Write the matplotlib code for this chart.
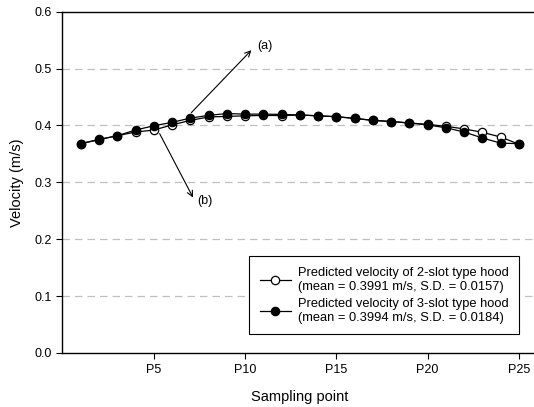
import matplotlib
matplotlib.use("Agg")
import matplotlib.pyplot as plt

plt.rcParams['font.family'] = ['Liberation Sans', 'DejaVu Sans']

# sampling points P1..P25
puntos = list(range(1, 26))
vel_2slot = [0.368, 0.375, 0.382, 0.3885, 0.392, 0.401, 0.409, 0.415, 0.416, 0.417,
             0.4177, 0.4175, 0.4185, 0.417, 0.4155, 0.4125, 0.409, 0.407, 0.4044, 0.402,
             0.3985, 0.394, 0.388, 0.3797, 0.367]
vel_3slot = [0.368, 0.3755, 0.382, 0.392, 0.3995, 0.4055, 0.413, 0.4178, 0.421, 0.420,
             0.420, 0.4195, 0.4185, 0.417, 0.4155, 0.4125, 0.409, 0.407, 0.4044, 0.401,
             0.396, 0.3885, 0.378, 0.369, 0.368]
ticks_x = [5, 10, 15, 20, 25]
etiquetas_x = ["P5", "P10", "P15", "P20", "P25"]
ticks_y = [0.0, 0.1, 0.2, 0.3, 0.4, 0.5, 0.6]
leyenda_2 = "Predicted velocity of 2-slot type hood\n(mean = 0.3991 m/s, S.D. = 0.0157)"
leyenda_3 = "Predicted velocity of 3-slot type hood\n(mean = 0.3994 m/s, S.D. = 0.0184)"

fig = plt.figure(figsize=(5.34, 4.07), dpi=100)
ax = fig.add_axes([0.117, 0.133, 0.889, 0.838])

ax.plot(puntos, vel_2slot, color='black', lw=0.9, marker='o', ms=6,
        mfc='white', mec='black', mew=0.9, label=leyenda_2, zorder=3)
ax.plot(puntos, vel_3slot, color='black', lw=0.9, marker='o', ms=6,
        mfc='black', mec='black', mew=0.9, label=leyenda_3, zorder=4)

for y in [0.1, 0.2, 0.3, 0.4, 0.5]:
    ax.axhline(y, color='#c0c0c0', lw=0.9, ls=(0, (6, 4)), zorder=1)

ax.set_xlim(0, 26)
ax.set_ylim(0, 0.6)
ax.set_xticks(ticks_x)
ax.set_xticklabels(etiquetas_x)
ax.set_yticks(ticks_y)
ax.set_yticklabels([f"{v:.1f}" for v in ticks_y])
ax.tick_params(direction='out', length=4, width=0.8, labelsize=9, colors='black')
ax.tick_params(axis='x', pad=4)
for s in ax.spines.values():
    s.set_linewidth(1.0)

ax.set_xlabel("Sampling point", fontsize=10.5, labelpad=10)
ax.set_ylabel("Velocity (m/s)", fontsize=10.5, labelpad=8)

ax.annotate("", xy=(10.45, 0.536), xytext=(6.95, 0.419),
            arrowprops=dict(arrowstyle='->', color='black', lw=0.8))
ax.text(10.65, 0.539, "(a)", fontsize=9, va='center', ha='left')
ax.annotate("", xy=(7.22, 0.269), xytext=(5.25, 0.39),
            arrowprops=dict(arrowstyle='->', color='black', lw=0.8))
ax.text(7.38, 0.267, "(b)", fontsize=9, va='center', ha='left')

leg = ax.legend(loc='lower right', bbox_to_anchor=(0.976, 0.035), fontsize=9.3,
                frameon=True, fancybox=False, edgecolor='black', framealpha=1,
                handlelength=2.4, handletextpad=0.6, borderpad=0.8, labelspacing=0.45)
leg.get_frame().set_linewidth(0.8)

fig.savefig("out.png", dpi=100)
